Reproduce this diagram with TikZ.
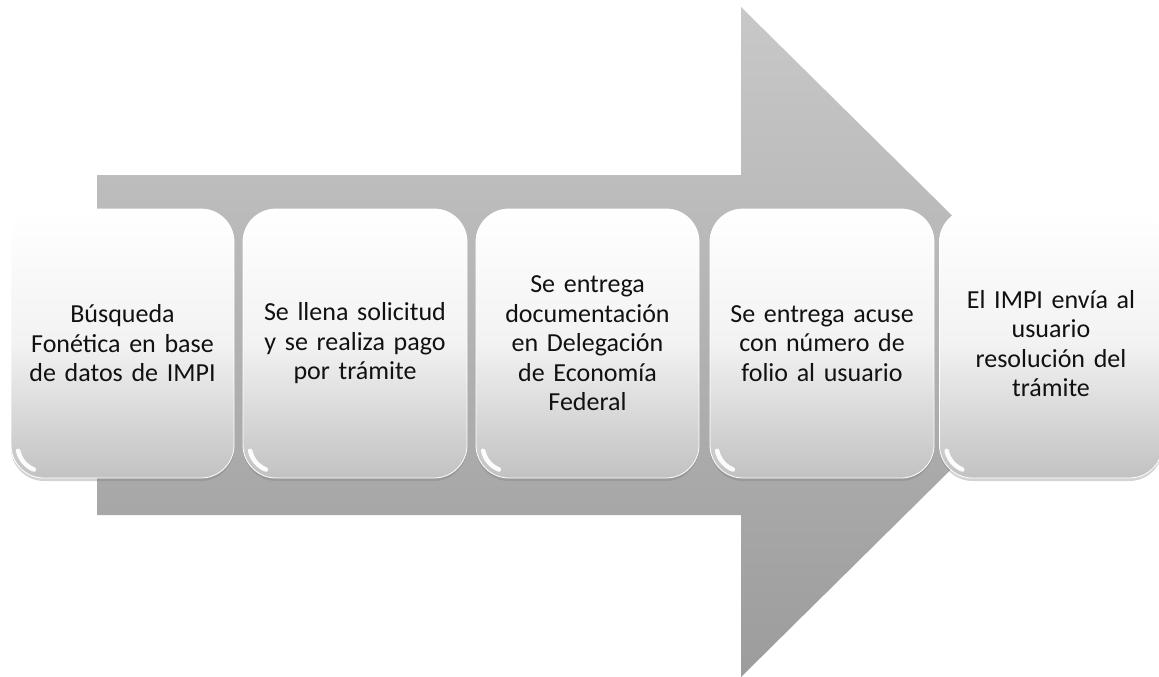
\documentclass[tikz,border=0pt]{standalone}
\usepackage{fontspec}
\setmainfont{Carlito}
\usetikzlibrary{shadows}
\definecolor{arrtop}{HTML}{C8C8C8}
\definecolor{arrbot}{HTML}{9C9C9C}
\definecolor{boxbot}{HTML}{C2C2C2}
\definecolor{txt}{HTML}{111111}
\tikzset{
  stepbox/.style={rounded corners=33pt, minimum height=269pt,
    top color=white, bottom color=boxbot, middle color=gray!10,
    draw=white, line width=0.8pt, inner sep=4pt,
    text width=215pt, align=center, text=txt,
    font=\fontsize{26}{29.5}\selectfont,
    drop shadow={opacity=0.35, shadow xshift=0pt, shadow yshift=-3pt}},
  gloss/.style={draw=white, line width=4.5pt, line cap=round, draw opacity=0.95},
}
\begin{document}
\begin{tikzpicture}[x=1pt,y=-1pt]
\useasboundingbox (0,0) rectangle (1159,677);
% big arrow
\shade[top color=arrtop, bottom color=arrbot]
  (97,175) -- (741,175) -- (741,7) -- (1080,342) -- (741,677) -- (741,515) -- (97,515) -- cycle;
% steps
\node[stepbox, minimum width=222pt] (s1) at (122.5,343.5) {Búsqueda\\Fonética en base\\de datos de IMPI};
\node[stepbox, minimum width=224pt] (s2) at (355,343.5) {Se llena solicitud\\y se realiza pago\\por trámite};
\node[stepbox, minimum width=223pt] (s3) at (587.5,343.5) {Se entrega\\documentación\\en Delegación\\de Economía\\Federal};
\node[stepbox, minimum width=224pt] (s4) at (822,343.5) {Se entrega acuse\\con número de\\folio al usuario};
\node[stepbox, minimum width=214pt] (s5) at (1051,343.5) {El IMPI envía al\\usuario\\resolución del\\trámite};
% glossy highlights at the lower left corners
\foreach \n in {s1,s2,s3,s4,s5}{
  \draw[gloss] ([shift={(33,-33)}]\n.south west) ++(168:26)
     arc[start angle=168, end angle=112, radius=26];
}
\end{tikzpicture}
\end{document}
